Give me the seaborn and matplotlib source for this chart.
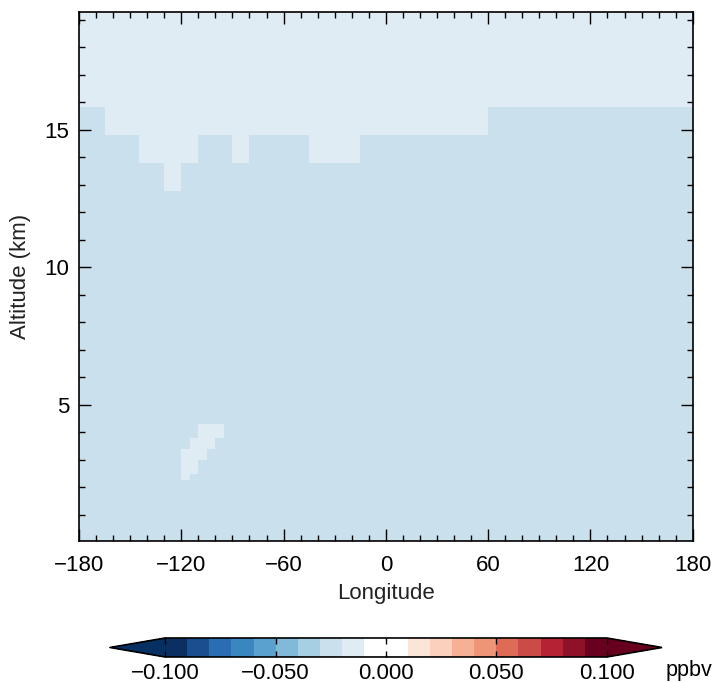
import numpy as np
import matplotlib
matplotlib.use("Agg")
import matplotlib.pyplot as plt
from matplotlib.colors import ListedColormap, BoundaryNorm
from matplotlib.ticker import MultipleLocator
import seaborn as sns

sns.set_theme(style="ticks")
plt.rcParams['font.family'] = ['Liberation Sans', 'DejaVu Sans']
plt.rcParams['axes.axisbelow'] = False

# ---------------- data ----------------
lon_step = 5
lon_min, lon_max = -180, 180
# altitude (km) edges of the model layers that appear in the picture
alt_edges = [0.06, 2.26, 2.47, 2.99, 3.39, 3.78, 4.29, 12.78, 13.79, 14.80, 15.82, 19.27]

background_value = -0.025   # bin -0.03 .. -0.02
anomaly_value = -0.015      # bin -0.02 .. -0.01

# upper (stratospheric) region: longitude segments and base altitude of lighter values
upper_lon_breaks = [-180, -165, -145, -130, -120, -110, -90, -80, -45, -15, 60, 180]
upper_base_km = [15.82, 14.80, 13.79, 12.78, 13.79, 14.80, 13.79, 14.80, 13.79, 14.80, 15.82]

# lower patch: (layer bottom km, layer top km, lon start, lon end)
patch_bottom_km = [3.78, 3.39, 2.99, 2.47, 2.26]
patch_top_km = [4.29, 3.78, 3.39, 2.99, 2.47]
patch_lon_start = [-110, -115, -120, -120, -120]
patch_lon_end = [-95, -100, -105, -110, -115]

level_bounds = [-0.10, -0.09, -0.08, -0.07, -0.06, -0.05, -0.04, -0.03, -0.02, -0.01,
                0.00, 0.01, 0.02, 0.03, 0.04, 0.05, 0.06, 0.07, 0.08, 0.09, 0.10]
level_colors = ['#0b2f60', '#1a4f8f', '#2a6db2', '#3a87c0', '#5aa1cf', '#80b9da',
                '#a6cfe4', '#cae1ed', '#e0ecf3', '#ffffff', '#ffffff', '#fbe4d8',
                '#fbd0bd', '#f6b093', '#ee9577', '#de6b56', '#cb4b47', '#b52233',
                '#8e1227', '#68001f']
under_color = '#053061'
over_color = '#67001f'
cbar_ticks = [-0.100, -0.050, 0.000, 0.050, 0.100]
cbar_unit = 'ppbv'
x_ticks = [-180, -120, -60, 0, 60, 120, 180]
y_ticks = [5, 10, 15]

# ---------------- grid ----------------
lon_edges = np.arange(lon_min, lon_max + lon_step, lon_step)
lon_centers = 0.5 * (lon_edges[:-1] + lon_edges[1:])
alt_e = np.array(alt_edges)
alt_centers = 0.5 * (alt_e[:-1] + alt_e[1:])
field = np.full((len(alt_centers), len(lon_centers)), background_value)

for i in range(len(upper_base_km)):
    sel_lon = (lon_centers > upper_lon_breaks[i]) & (lon_centers < upper_lon_breaks[i + 1])
    sel_alt = alt_centers > upper_base_km[i]
    field[np.ix_(sel_alt, sel_lon)] = anomaly_value

for b, t, l0, l1 in zip(patch_bottom_km, patch_top_km, patch_lon_start, patch_lon_end):
    sel_alt = (alt_centers > b) & (alt_centers < t)
    sel_lon = (lon_centers > l0) & (lon_centers < l1)
    field[np.ix_(sel_alt, sel_lon)] = anomaly_value

# ---------------- plot ----------------
cmap = ListedColormap(level_colors)
cmap.set_under(under_color)
cmap.set_over(over_color)
norm = BoundaryNorm(level_bounds, cmap.N)

fig = plt.figure(figsize=(7.17, 6.83), dpi=100)
ax = fig.add_axes([0.1102, 0.2083, 0.8559, 0.7734])
ax.set_axisbelow(False)
mesh = ax.pcolormesh(lon_edges, alt_e, field, cmap=cmap, norm=norm, shading='flat', zorder=0.5)

ax.set_xlim(lon_min, lon_max)
ax.set_ylim(alt_edges[0], alt_edges[-1])
ax.set_xticks(x_ticks)
ax.set_xticklabels([f"{v}".replace('-', '\u2212') for v in x_ticks])
ax.set_yticks(y_ticks)
ax.xaxis.set_minor_locator(MultipleLocator(10))
ax.yaxis.set_minor_locator(MultipleLocator(1))
ax.tick_params(which='both', direction='in', top=True, right=True, color='black')
ax.tick_params(which='major', length=8.6, width=1.0, labelsize=16, pad=7, labelcolor='black')
ax.tick_params(axis='x', which='major', pad=10)
ax.tick_params(which='minor', length=4.3, width=1.0)
for s in ax.spines.values():
    s.set_color('black')
    s.set_linewidth(1.2)
    s.set_zorder(5)
ax.set_xlabel('Longitude', fontsize=16, labelpad=5, color='#222222')
ax.set_ylabel('Altitude (km)', fontsize=16, labelpad=10, color='#222222')

cax = fig.add_axes([0.1534, 0.0381, 0.7699, 0.0278])
cb = fig.colorbar(mesh, cax=cax, orientation='horizontal', extend='both',
                  extendfrac=0.125, ticks=cbar_ticks, drawedges=False)
cb.ax.minorticks_off()
cb.outline.set_linewidth(1.2)
cb.outline.set_edgecolor('black')
cb.ax.set_xticklabels([f"{v:.3f}".replace('-', '\u2212') for v in cbar_ticks])
cb.ax.tick_params(direction='in', length=4, width=1.0, labelsize=16, pad=4,
                  top=True, bottom=True, color='black', labelcolor='black')
fig.text(0.928, 0.0176, cbar_unit, fontsize=15.5, ha='left', va='center', color='black')

fig.savefig('out.png', dpi=100)
